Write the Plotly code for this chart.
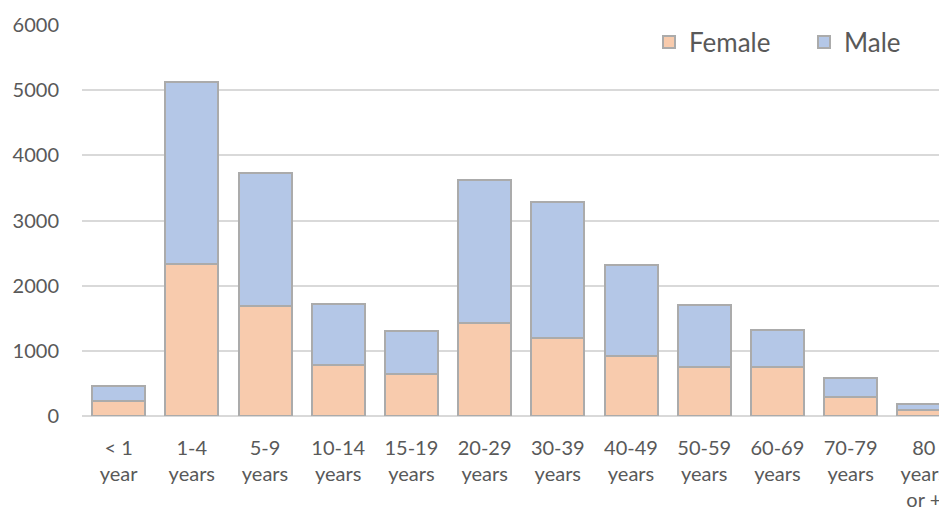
import plotly.graph_objects as go

categories = ["< 1<br>year", "1-4<br>years", "5-9<br>years", "10-14<br>years", "15-19<br>years",
              "20-29<br>years", "30-39<br>years", "40-49<br>years", "50-59<br>years",
              "60-69<br>years", "70-79<br>years", "80<br>years<br>or +"]
female = [228, 2335, 1685, 779, 651, 1424, 1198, 917, 753, 753, 292, 98]
male = [233, 2791, 2043, 941, 661, 2192, 2085, 1393, 947, 574, 287, 82]
y_ticks = [0, 1000, 2000, 3000, 4000, 5000, 6000]

FONT = "Lato"
TXT = "#595959"
LINE = dict(color="#ABABAB", width=2)

fig = go.Figure()
fig.add_trace(go.Bar(x=list(range(len(categories))), y=female, name="Female",
                     marker=dict(color="#F8CBAD", line=LINE)))
fig.add_trace(go.Bar(x=list(range(len(categories))), y=male, name="Male",
                     marker=dict(color="#B4C7E7", line=LINE)))

fig.update_layout(
    width=947, height=503,
    barmode="stack", bargap=0.276,
    plot_bgcolor="white", paper_bgcolor="white",
    margin=dict(l=74, r=8, t=17, b=95, autoexpand=False),
    font=dict(family=FONT, color=TXT, size=20),
    showlegend=True,
    legend=dict(orientation="h", x=0.6555, xanchor="left", y=0.9565, yanchor="middle",
                traceorder="normal", font=dict(size=26, color=TXT),
                bgcolor="rgba(0,0,0,0)", entrywidth=110),
    xaxis=dict(tickmode="array", tickvals=list(range(len(categories))), ticktext=categories,
               range=[-0.5, 11.317], showgrid=False, zeroline=False, showline=False,
               automargin=False, ticklabeloverflow="allow",
               ticks="", ticklabelstandoff=18, tickfont=dict(size=20, color=TXT)),
    yaxis=dict(range=[0, 6000], tickvals=y_ticks, showgrid=True, gridcolor="#D9D9D9",
               gridwidth=1.5, zeroline=True, zerolinecolor="#D9D9D9", zerolinewidth=1.5,
               showline=False, ticks="", ticklabelstandoff=22, automargin=False,
               tickfont=dict(size=20, color=TXT)),
)

fig.write_html("out.html")
